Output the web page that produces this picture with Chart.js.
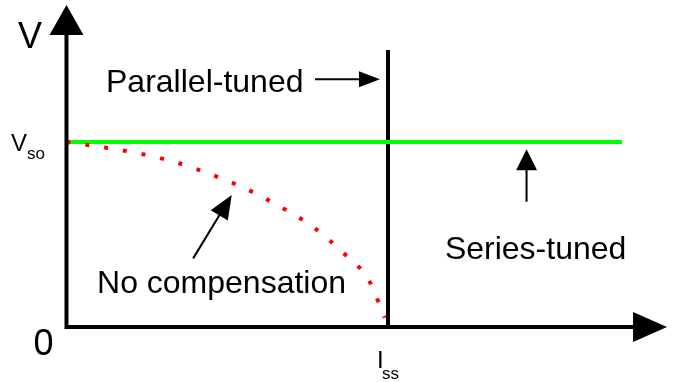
<!DOCTYPE html>
<html>
<head>
<meta charset="utf-8">
<script src="https://cdn.jsdelivr.net/npm/chart.js@4.4.0/dist/chart.umd.min.js"></script>
<style>
  html, body { margin: 0; padding: 0; background: #fff; }
  #wrap { width: 681px; height: 382px; }
</style>
</head>
<body>
<div id="wrap"><canvas id="chartCurvas" width="681" height="382"></canvas></div>
<script>
// x: 0 = eje V, 1 = Iss ; y: 0 = eje I, 1 = Vso
const compX = [0, 0.12, 0.24, 0.35, 0.46, 0.57, 0.67, 0.77, 0.86, 0.94, 0.99];
const compY = [1, 0.97, 0.933, 0.885, 0.818, 0.737, 0.645, 0.537, 0.402, 0.254, 0.05];
const seriesX = [0, 1.728];
const seriesY = [1, 1];
const parallelX = [1, 1];
const parallelY = [0, 1.497];
const xTicks = ['I', 'ss'];
const yTicks = ['V', 'so'];

const toPts = (xs, ys) => xs.map((x, i) => ({ x: x, y: ys[i] }));

const FONT = '"Liberation Sans", Arial, sans-serif';

const drawHead = (ctx, x1, y1, x2, y2, len, half) => {
    const a = Math.atan2(y2 - y1, x2 - x1);
    const bx = x2 - len * Math.cos(a);
    const by = y2 - len * Math.sin(a);
    ctx.beginPath();
    ctx.moveTo(x2, y2);
    ctx.lineTo(bx + half * Math.sin(a), by - half * Math.cos(a));
    ctx.lineTo(bx - half * Math.sin(a), by + half * Math.cos(a));
    ctx.closePath();
    ctx.fill();
}

const arrow = (ctx, xs, ys, p1, p2, len, half, w) => {
    const x1 = xs.getPixelForValue(p1[0]), y1 = ys.getPixelForValue(p1[1]);
    const x2 = xs.getPixelForValue(p2[0]), y2 = ys.getPixelForValue(p2[1]);
    const a = Math.atan2(y2 - y1, x2 - x1);
    ctx.lineWidth = w;
    ctx.beginPath();
    ctx.moveTo(x1, y1);
    ctx.lineTo(x2 - (len - 2) * Math.cos(a), y2 - (len - 2) * Math.sin(a));
    ctx.stroke();
    drawHead(ctx, x1, y1, x2, y2, len, half);
}

const texto = (ctx, xs, ys, str, x, y, size) => {
    ctx.font = size + 'px ' + FONT;
    ctx.fillText(str, xs.getPixelForValue(x), ys.getPixelForValue(y));
}

const dibujoPlugin = {
    id: 'dibujo',
    afterDatasetsDraw(chart) {
        const ctx = chart.ctx;
        const xs = chart.scales.x;
        const ys = chart.scales.y;
        const x0 = xs.getPixelForValue(0);
        const y0 = ys.getPixelForValue(0);
        const yTop = ys.getPixelForValue(1.741);
        const xEnd = xs.getPixelForValue(1.868);

        ctx.save();
        ctx.strokeStyle = '#000';
        ctx.fillStyle = '#000';

        // ejes
        ctx.lineWidth = 4;
        ctx.lineJoin = 'miter';
        ctx.beginPath();
        ctx.moveTo(x0, yTop + 25);
        ctx.lineTo(x0, y0);
        ctx.lineTo(xEnd - 30, y0);
        ctx.stroke();
        drawHead(ctx, x0, y0, x0, yTop, 30, 17);
        drawHead(ctx, x0, y0, xEnd, y0, 34, 15);

        // flechas
        arrow(ctx, xs, ys, [0.773, 1.339], [0.975, 1.339], 21, 8, 2);
        arrow(ctx, xs, ys, [0.394, 0.371], [0.514, 0.714], 24, 10, 2);
        arrow(ctx, xs, ys, [1.431, 0.677], [1.431, 0.961], 21, 10.5, 2);

        // textos
        ctx.textBaseline = 'alphabetic';
        ctx.textAlign = 'left';
        texto(ctx, xs, ys, 'Parallel-tuned', 0.123, 1.270, 32);
        texto(ctx, xs, ys, 'Series-tuned', 1.177, 0.369, 32);
        texto(ctx, xs, ys, 'No compensation', 0.095, 0.182, 32);

        ctx.font = '36px ' + FONT;
        ctx.fillText('V', 18, 48);
        ctx.textAlign = 'center';
        ctx.fillText('0', x0 - 23, y0 + 28);
        ctx.textAlign = 'left';

        // Vso
        const yv = ys.getPixelForValue(1);
        ctx.font = '24px ' + FONT;
        ctx.fillText(yTicks[0], 11, yv + 9);
        ctx.font = '17px ' + FONT;
        ctx.fillText(yTicks[1], 27, yv + 17);

        // Iss
        const xi = xs.getPixelForValue(1);
        ctx.font = '24px ' + FONT;
        ctx.fillText(xTicks[0], xi - 11, y0 + 41);
        ctx.font = '17px ' + FONT;
        ctx.fillText(xTicks[1], xi - 6, y0 + 52);

        ctx.restore();
    }
};

const ctx = document.getElementById('chartCurvas').getContext('2d');

const chartCurvas = new Chart(ctx, {
    type: 'scatter',
    data: {
        datasets: [{
            label: 'No compensation',
            data: toPts(compX, compY),
            showLine: true,
            borderColor: '#ff0000',
            borderWidth: 4,
            borderDash: [4, 15],
            borderCapStyle: 'butt',
            cubicInterpolationMode: 'monotone',
            pointRadius: 0
        }, {
            label: 'Series-tuned',
            data: toPts(seriesX, seriesY),
            showLine: true,
            borderColor: '#00ff00',
            borderWidth: 4,
            pointRadius: 0
        }, {
            label: 'Parallel-tuned',
            data: toPts(parallelX, parallelY),
            showLine: true,
            borderColor: '#000000',
            borderWidth: 4,
            pointRadius: 0
        }]
    },
    options: {
        responsive: false,
        animation: false,
        layout: { padding: 0 },
        scales: {
            x: { type: 'linear', display: false, min: -0.2068, max: 1.9114 },
            y: { type: 'linear', display: false, min: -0.2973, max: 1.7676 }
        },
        plugins: {
            legend: { display: false },
            tooltip: { enabled: false }
        }
    },
    plugins: [dibujoPlugin]
});
</script>
</body>
</html>
